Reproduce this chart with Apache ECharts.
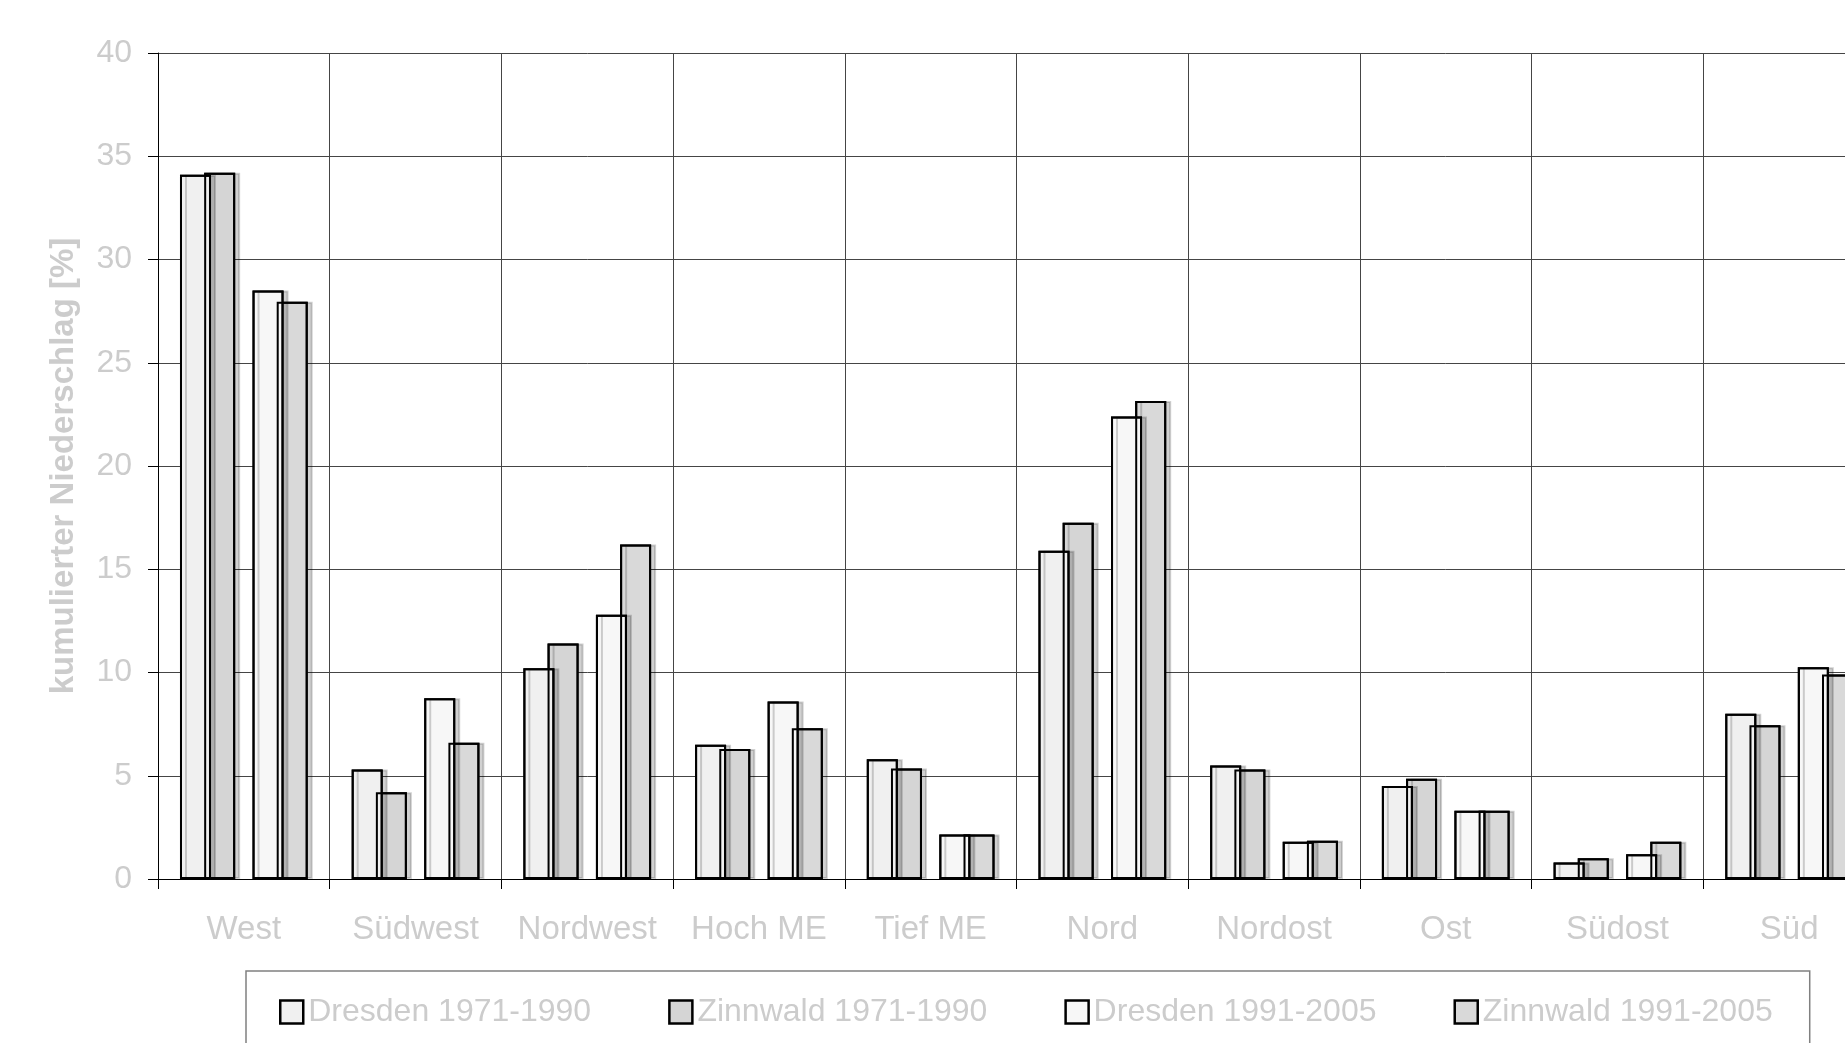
<!DOCTYPE html>
<html>
<head>
<meta charset="utf-8">
<script src="https://cdn.jsdelivr.net/npm/echarts@6/dist/echarts.min.js"></script>
<style>
  html, body { margin: 0; padding: 0; background: #ffffff; overflow: hidden; width: 1845px; height: 1043px; }
  #chart { width: 1890px; height: 1043px; }
</style>
</head>
<body>
<div id="chart"></div>
<script>
const categories = ['West', 'Südwest', 'Nordwest', 'Hoch ME', 'Tief ME', 'Nord', 'Nordost', 'Ost', 'Südost', 'Süd'];
const seriesNames = ['Dresden 1971-1990', 'Zinnwald 1971-1990', 'Dresden 1991-2005', 'Zinnwald 1991-2005'];
const dresden7190 = [34.1, 5.3, 10.2, 6.5, 5.8, 15.9, 5.5, 4.5, 0.8, 8.0];
const zinnwald7190 = [34.2, 4.2, 11.4, 6.3, 5.35, 17.25, 5.3, 4.85, 1.0, 7.45];
const dresden9105 = [28.5, 8.75, 12.8, 8.6, 2.15, 22.4, 1.8, 3.3, 1.2, 10.25];
const zinnwald9105 = [27.95, 6.6, 16.2, 7.3, 2.15, 23.15, 1.85, 3.3, 1.8, 9.9];
const yMin = 0, yMax = 40, yStep = 5;
const yAxisTitle = 'kumulierter Niederschlag [%]';

const fills = ['#f0f0f0', '#d5d5d5', '#f7f7f7', '#d9d9d9'];
const values = [dresden7190, zinnwald7190, dresden9105, zinnwald9105];
const textColor = '#cccccc';
const gridColor = '#454545';
const FONT = '"Liberation Sans", Arial, sans-serif';
const BAR_W = 31;
const BAR_GAP = '-22%';

function fillSeries(i) {
  return {
    name: seriesNames[i], type: 'bar', xAxisIndex: 0,
    data: values[i], barWidth: BAR_W, barGap: BAR_GAP,
    z: (i % 2 === 0) ? 3 : 2,
    silent: true,
    itemStyle: {
      color: fills[i], borderColor: '#000', borderWidth: 2,
      shadowColor: 'rgba(0,0,0,0.18)', shadowBlur: 0, shadowOffsetX: 5, shadowOffsetY: 0
    }
  };
}
function borderSeries(i) {
  return {
    name: '_border' + i, type: 'bar', xAxisIndex: 1,
    data: values[i], barWidth: BAR_W, barGap: BAR_GAP, z: 4, silent: true,
    itemStyle: { color: 'rgba(0,0,0,0)', borderColor: '#000', borderWidth: 2 }
  };
}
function spacer(axis) {
  return { name: '_spacer' + axis, type: 'bar', xAxisIndex: axis, data: [], barWidth: BAR_W, barGap: BAR_GAP, silent: true };
}

const series = [
  fillSeries(0), fillSeries(1), spacer(0), fillSeries(2), fillSeries(3),
  borderSeries(0), borderSeries(1), spacer(1), borderSeries(2), borderSeries(3)
];

const chart = echarts.init(document.getElementById('chart'), null, { renderer: 'canvas' });
chart.setOption({
  animation: false,
  backgroundColor: '#ffffff',
  textStyle: { fontFamily: FONT },
  grid: { left: 158, top: 53, width: 1717, height: 826, containLabel: false },
  legend: {
    left: 246, top: 971,
    orient: 'horizontal',
    padding: [25, 37, 90, 33],
    itemGap: 77,
    itemWidth: 23, itemHeight: 23,
    icon: 'rect',
    borderColor: '#808080', borderWidth: 1.5,
    textStyle: { color: textColor, fontSize: 32, fontFamily: FONT },
    data: seriesNames.map((n, i) => ({
      name: n,
      itemStyle: { color: fills[i], borderColor: '#000', borderWidth: 2.5,
        shadowColor: 'rgba(0,0,0,0)', shadowBlur: 0, shadowOffsetX: 0, shadowOffsetY: 0 }
    }))
  },
  xAxis: [{
    type: 'category', data: categories, boundaryGap: true,
    axisLine: { show: true, lineStyle: { color: '#000', width: 1 } },
    axisTick: { show: true, interval: 0, length: 10, lineStyle: { color: '#000', width: 1 } },
    axisLabel: { interval: 0, margin: 34, color: textColor, fontSize: 33, fontFamily: FONT },
    splitLine: { show: true, interval: 0, lineStyle: { color: gridColor, width: 1 } }
  }, {
    type: 'category', data: categories, show: false, gridIndex: 0
  }],
  yAxis: {
    type: 'value', min: yMin, max: yMax, interval: yStep,
    name: yAxisTitle, nameLocation: 'middle', nameGap: 78,
    nameTextStyle: { color: textColor, fontSize: 33, fontWeight: 'bold', fontFamily: FONT },
    axisLine: { show: true, lineStyle: { color: '#000', width: 1 } },
    axisTick: { show: true, length: 10, lineStyle: { color: '#000', width: 1 } },
    axisLabel: { margin: 26, color: textColor, fontSize: 32, fontFamily: FONT },
    splitLine: { show: true, lineStyle: { color: gridColor, width: 1 } }
  },
  series: series
});
</script>
</body>
</html>
